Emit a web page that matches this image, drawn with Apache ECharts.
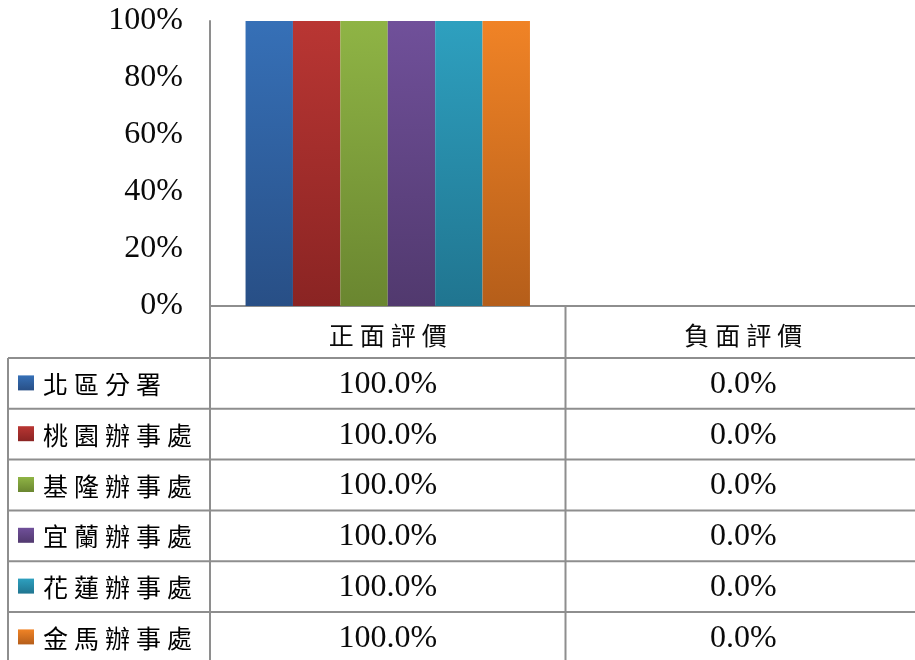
<!DOCTYPE html>
<html>
<head>
<meta charset="utf-8">
<script src="https://cdn.jsdelivr.net/npm/echarts@6/dist/echarts.min.js"></script>
<style>
  html, body { margin: 0; padding: 0; background: #fff; overflow: hidden; }
  #chart { width: 915px; height: 660px; }
</style>
</head>
<body>
<div id="chart"></div>
<script>
// Evaluation categories (x axis / table header)
var categories = ['正面評價', '負面評價'];

// Offices (one bar series per office, also the table rows)
var offices = ['北區分署', '桃園辦事處', '基隆辦事處', '宜蘭辦事處', '花蓮辦事處', '金馬辦事處'];

// Share of each evaluation per office, in percent
var northValues    = [100.0, 0.0];
var taoyuanValues  = [100.0, 0.0];
var keelungValues  = [100.0, 0.0];
var yilanValues    = [100.0, 0.0];
var hualienValues  = [100.0, 0.0];
var kinmaValues    = [100.0, 0.0];
var seriesValues = [northValues, taoyuanValues, keelungValues, yilanValues, hualienValues, kinmaValues];

// Y axis tick labels
var yTicks = [0, 20, 40, 60, 80, 100];

// Bar gradient colours per office: [top, bottom]
var barColors = [
  ['#3670b7', '#284f86'],
  ['#b93633', '#8a2423'],
  ['#8fb445', '#6a8630'],
  ['#70509a', '#51396e'],
  ['#2ea0bf', '#207590'],
  ['#f08326', '#b55e1a']
];

var W = 915, H = 660;
// the plot area runs a little past the right edge, so its closing border is not seen
var gridLeft = 210, gridWidth = 711, gridTop = 21, axisY = 306;
var tableLeft = 8;
var headerBottom = 358;
var rowH = 50.8;
var lineColor = '#8e8e8e';
var textColor = '#0a0a0a';
var serif = '"Liberation Serif", "DejaVu Serif", serif';
var cjk = '"Noto Sans CJK TC", "Noto Sans CJK SC", sans-serif';

// Spaced-out CJK text: every character gets a fixed-width cell
var cjkRich = {
  c: { width: 31, align: 'center', fontSize: 25, fontFamily: cjk, color: textColor }
};
function spaced(str) {
  return str.split('').map(function (ch) { return '{c|' + ch + '}'; }).join('');
}

var chart = echarts.init(document.getElementById('chart'), null, { renderer: 'canvas' });

var series = offices.map(function (name, i) {
  return {
    name: name,
    type: 'bar',
    data: seriesValues[i],
    barGap: '0%',
    barCategoryGap: '20%',
    itemStyle: {
      color: new echarts.graphic.LinearGradient(0, 0, 0, 1, [
        { offset: 0, color: barColors[i][0] },
        { offset: 1, color: barColors[i][1] }
      ]),
      shadowBlur: 3,
      shadowColor: 'rgba(0,0,0,0.25)',
      shadowOffsetX: 1,
      shadowOffsetY: 0
    },
    emphasis: { disabled: true }
  };
});

chart.setOption({
  animation: false,
  backgroundColor: '#fff',
  grid: {
    left: gridLeft, width: gridWidth, top: gridTop, bottom: H - axisY,
    containLabel: false, outerBoundsMode: 'none'
  },
  xAxis: {
    type: 'category',
    data: categories,
    axisLine: { show: true, lineStyle: { color: lineColor, width: 2 } },
    axisTick: { show: false },
    axisLabel: {
      margin: 29, verticalAlign: 'middle',
      formatter: function (v) { return spaced(v); },
      rich: cjkRich
    },
    splitLine: { show: false }
  },
  yAxis: {
    type: 'value',
    min: yTicks[0],
    max: yTicks[yTicks.length - 1],
    interval: yTicks[1] - yTicks[0],
    axisLine: { show: true, lineStyle: { color: lineColor, width: 2 } },
    axisTick: { show: false },
    splitLine: { show: false },
    axisLabel: {
      margin: 27, color: textColor, fontSize: 32, fontFamily: serif,
      formatter: function (v) { return v + '%'; }
    }
  },
  series: series
});

// Data table below the plot: column separators, row lines, legend keys, names and values
var graphics = [];
var centers = categories.map(function (c, j) {
  return chart.convertToPixel({ xAxisIndex: 0 }, j);
});
var catW = centers.length > 1 ? centers[1] - centers[0] : gridWidth;

// column separators: left of the first category, and between categories
for (var j = 0; j < centers.length; j++) {
  var bx = centers[j] - catW / 2;
  graphics.push({
    type: 'line', silent: true,
    shape: { x1: bx, y1: axisY, x2: bx, y2: H + 5 },
    style: { stroke: lineColor, lineWidth: 2 }
  });
}

// left border of the row section
graphics.push({
  type: 'line', silent: true,
  shape: { x1: tableLeft, y1: headerBottom, x2: tableLeft, y2: H + 5 },
  style: { stroke: lineColor, lineWidth: 2 }
});

offices.forEach(function (name, i) {
  var top = headerBottom + i * rowH;
  var mid = top + rowH / 2;
  graphics.push({
    type: 'line', silent: true,
    shape: { x1: tableLeft, y1: top, x2: W, y2: top },
    style: { stroke: lineColor, lineWidth: 2 }
  });
  graphics.push({
    type: 'rect', silent: true,
    shape: { x: 18, y: mid - 8, width: 16, height: 15 },
    style: {
      fill: new echarts.graphic.LinearGradient(0, 0, 0, 1, [
        { offset: 0, color: barColors[i][0] },
        { offset: 1, color: barColors[i][1] }
      ])
    }
  });
  graphics.push({
    type: 'text', silent: true,
    style: {
      x: 40, y: mid + 1, text: spaced(name), rich: cjkRich,
      align: 'left', verticalAlign: 'middle'
    }
  });
  centers.forEach(function (cx, j) {
    graphics.push({
      type: 'text', silent: true,
      style: {
        x: cx, y: mid + 1,
        text: seriesValues[i][j].toFixed(1) + '%',
        font: '32px ' + serif, fill: textColor,
        align: 'center', verticalAlign: 'middle'
      }
    });
  });
});

chart.setOption({ graphic: graphics });
</script>
</body>
</html>
